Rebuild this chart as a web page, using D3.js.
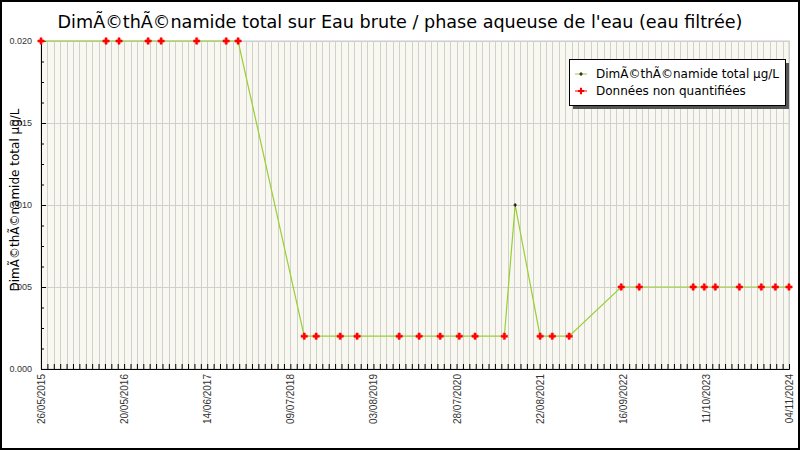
<!DOCTYPE html>
<html>
<head>
<meta charset="utf-8">
<script src="https://cdn.jsdelivr.net/npm/d3@7"></script>
<style>
  body { margin: 0; background: #fff; }
  svg { display: block; }
</style>
</head>
<body>
<svg id="chart" width="800" height="450"></svg>
<script>

var titleText = "DimÃ©thÃ©namide total sur Eau brute / phase aqueuse de l'eau (eau filtrée)";
var yTitle = "DimÃ©thÃ©namide total µg/L";
var legendLabels = ["DimÃ©thÃ©namide total µg/L", "Données non quantifiées"];

// sample dates (dd/mm/yyyy)
var sampleDates = [
  "26/05/2015", "21/03/2016", "20/05/2016", "01/10/2016", "30/11/2016",
  "13/05/2017", "26/09/2017", "20/11/2017",
  "21/09/2018", "15/11/2018", "06/03/2019", "23/05/2019", "03/12/2019",
  "04/03/2020", "09/06/2020", "05/09/2020", "17/11/2020", "01/04/2021",
  "21/05/2021",
  "13/09/2021", "08/11/2021", "25/01/2022",
  "22/09/2022", "14/12/2022", "20/08/2023", "10/10/2023", "30/11/2023",
  "20/03/2024", "29/06/2024", "02/09/2024", "04/11/2024"
];
var sampleValues = [
  0.020, 0.020, 0.020, 0.020, 0.020,
  0.020, 0.020, 0.020,
  0.002, 0.002, 0.002, 0.002, 0.002,
  0.002, 0.002, 0.002, 0.002, 0.002,
  0.010,
  0.002, 0.002, 0.002,
  0.005, 0.005, 0.005, 0.005, 0.005,
  0.005, 0.005, 0.005, 0.005
];
// 1 = quantified, 0 = non quantifiée
var quantified = [
  0, 0, 0, 0, 0, 0, 0, 0,
  0, 0, 0, 0, 0, 0, 0, 0, 0, 0,
  1,
  0, 0, 0,
  0, 0, 0, 0, 0, 0, 0, 0, 0
];

var xTickLabels = ["26/05/2015", "20/05/2016", "14/06/2017", "09/07/2018", "03/08/2019",
                   "28/07/2020", "22/08/2021", "16/09/2022", "11/10/2023", "04/11/2024"];
var yTicks = [0, 0.005, 0.010, 0.015, 0.020];

var parse = d3.timeParse("%d/%m/%Y");
var startDate = parse(xTickLabels[0]);
var endDate = parse(xTickLabels[xTickLabels.length - 1]);

var points = sampleDates.map(function(s, i) {
  return { date: parse(s), value: sampleValues[i], q: quantified[i] };
});

var svg = d3.select('#chart');
var plotLeft = 41, plotRight = 789, plotTop = 41, plotBottom = 369;

var x = d3.scaleTime().domain([startDate, endDate]).range([plotLeft, plotRight]);
var y = d3.scaleLinear().domain([0, 0.02]).range([plotBottom, plotTop]);

function evenDates(n) {
  return d3.range(n + 1).map(function(i) {
    return new Date(+startDate + i * (endDate - startDate) / n);
  });
}
var labelDates = evenDates(xTickLabels.length - 1);
var gridDates = evenDates((xTickLabels.length - 1) * 13);
var minorY = d3.range(0, 17).map(function(i) { return i * 0.00125; });

var lineColor = "#9acd32";
var font = "DejaVu Sans, sans-serif";
var tickFont = "Liberation Sans, Arial, sans-serif";

function marker(q) {
  return d3.symbol().type(d3.symbolCross).size(q ? 6 : 22)();
}

// outer frame
svg.append('rect')
    .attr('x', 1).attr('y', 1).attr('width', 798).attr('height', 448)
    .attr('fill', '#fff').attr('stroke', '#000').attr('stroke-width', 2);

// plot background
svg.append('rect')
    .attr('x', plotLeft).attr('y', plotTop)
    .attr('width', plotRight - plotLeft).attr('height', plotBottom - plotTop)
    .attr('fill', '#f8f8f0').attr('stroke', '#ccc');

// vertical grid
svg.append('g')
    .selectAll('line')
    .data(gridDates)
    .enter()
    .append('line')
    .attr('x1', function(d) { return Math.round(x(d)) + 0.5; })
    .attr('x2', function(d) { return Math.round(x(d)) + 0.5; })
    .attr('y1', plotTop).attr('y2', plotBottom)
    .attr('stroke', '#d0d0d0');

// horizontal grid
svg.append('g')
    .selectAll('line')
    .data(yTicks)
    .enter()
    .append('line')
    .attr('x1', plotLeft).attr('x2', plotRight)
    .attr('y1', function(d) { return Math.round(y(d)) + 0.5; })
    .attr('y2', function(d) { return Math.round(y(d)) + 0.5; })
    .attr('stroke', '#d0d0d0');

// y axis
var yAxis = svg.append('g')
    .attr('transform', 'translate(' + plotLeft + ',0)')
    .call(d3.axisLeft(y).tickValues(yTicks).tickSize(-5).tickPadding(9)
        .tickFormat(d3.format('.3f')));
svg.append('g')
    .attr('transform', 'translate(' + plotLeft + ',0)')
    .call(d3.axisLeft(y).tickValues(minorY).tickSize(-3).tickFormat(''))
    .select('.domain').remove();
yAxis.selectAll('text')
    .attr('font-family', tickFont).attr('font-size', 9).attr('fill', '#333');

// x axis
svg.append('g')
    .attr('transform', 'translate(0,' + plotBottom + ')')
    .call(d3.axisBottom(x).tickValues(gridDates).tickSize(-5).tickFormat(''));
var xAxis = svg.append('g')
    .attr('transform', 'translate(0,' + plotBottom + ')')
    .call(d3.axisBottom(x).tickValues(labelDates).tickSize(0)
        .tickFormat(function(d, i) { return xTickLabels[i]; }));
xAxis.select('.domain').remove();
xAxis.selectAll('text')
    .attr('font-family', tickFont).attr('font-size', 10).attr('fill', '#333')
    .attr('text-anchor', 'end')
    .attr('transform', 'rotate(-90)')
    .attr('x', -5).attr('y', 0).attr('dy', '0.35em');

svg.selectAll('.domain').attr('stroke', '#000');
svg.selectAll('.tick line').attr('stroke', '#000');

// data line
svg.append('path')
    .datum(points)
    .attr('fill', 'none')
    .attr('stroke', lineColor)
    .attr('stroke-width', 1.2)
    .attr('d', d3.line()
        .x(function(d) { return x(d.date); })
        .y(function(d) { return y(d.value); }));

// markers
svg.append('g')
    .selectAll('path')
    .data(points)
    .enter()
    .append('path')
    .attr('transform', function(d) {
      return 'translate(' + x(d.date) + ',' + y(d.value) + ')';
    })
    .attr('d', function(d) { return marker(d.q); })
    .attr('fill', function(d) { return d.q ? '#000' : '#ff0000'; })
    .attr('stroke', function(d) { return d.q ? 'none' : '#ff0000'; })
    .attr('stroke-width', 0.6)
    .attr('stroke-linejoin', 'round');

// title
svg.append('text')
    .attr('x', 400).attr('y', 28)
    .attr('text-anchor', 'middle')
    .attr('font-family', font).attr('font-size', 17.6)
    .attr('fill', '#000')
    .text(titleText);

// y title
svg.append('text')
    .attr('transform', 'translate(19,200) rotate(-90)')
    .attr('text-anchor', 'middle')
    .attr('font-family', font).attr('font-size', 12)
    .attr('fill', '#000')
    .text(yTitle);

// legend
var lg = svg.append('g').attr('transform', 'translate(569,59)');
lg.append('rect')
    .attr('x', 4).attr('y', 4).attr('width', 216).attr('height', 46)
    .attr('fill', '#555');
lg.append('rect')
    .attr('x', 0.5).attr('y', 0.5).attr('width', 216).attr('height', 46)
    .attr('fill', '#fff').attr('stroke', '#000');

var legendItems = lg.selectAll('g.item')
    .data(legendLabels)
    .enter()
    .append('g')
    .attr('class', 'item')
    .attr('transform', function(d, i) { return 'translate(0,' + (15 + i * 17) + ')'; });
legendItems.append('line')
    .attr('x1', 6).attr('x2', 18)
    .attr('stroke', function(d, i) { return i ? '#ff0000' : lineColor; });
legendItems.append('path')
    .attr('transform', 'translate(12,0)')
    .attr('d', function(d, i) { return marker(!i); })
    .attr('fill', function(d, i) { return i ? '#ff0000' : '#000'; });
legendItems.append('text')
    .attr('x', 27).attr('dy', '0.35em')
    .attr('font-family', font).attr('font-size', 12)
    .attr('fill', '#000')
    .text(function(d) { return d; });

</script>
</body>
</html>
